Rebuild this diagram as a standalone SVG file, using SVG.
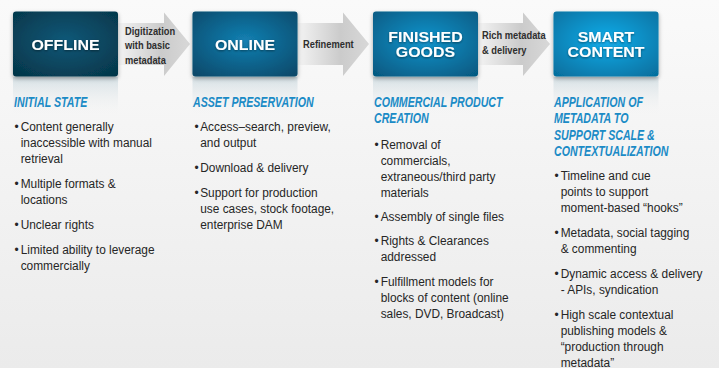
<svg xmlns="http://www.w3.org/2000/svg" width="719" height="368" viewBox="0 0 719 368">
<defs>
<linearGradient id="bg" x1="0" y1="0" x2="0" y2="1"><stop offset="0" stop-color="#fafafa"/><stop offset="1" stop-color="#ebebeb"/></linearGradient>
<linearGradient id="arr" x1="0" y1="0" x2="1" y2="0"><stop offset="0" stop-color="#f7f7f7"/><stop offset="0.62" stop-color="#cbcbcb"/><stop offset="1" stop-color="#d8d8d8"/></linearGradient>
<linearGradient id="refl" x1="0" y1="0" x2="0" y2="1"><stop offset="0" stop-color="#b9cdd6" stop-opacity="0.55"/><stop offset="1" stop-color="#f0f0f0" stop-opacity="0"/></linearGradient>
<radialGradient id="g1" cx="0.5" cy="0.45" r="0.7"><stop offset="0" stop-color="#0d5878"/><stop offset="1" stop-color="#053649"/></radialGradient>
<radialGradient id="g2" cx="0.5" cy="0.45" r="0.7"><stop offset="0" stop-color="#1380b2"/><stop offset="1" stop-color="#07496a"/></radialGradient>
<radialGradient id="g3" cx="0.5" cy="0.45" r="0.7"><stop offset="0" stop-color="#1394cc"/><stop offset="1" stop-color="#065a82"/></radialGradient>
<radialGradient id="g4" cx="0.5" cy="0.45" r="0.7"><stop offset="0" stop-color="#14adea"/><stop offset="1" stop-color="#06709f"/></radialGradient>
<filter id="sh" x="-20%" y="-20%" width="140%" height="150%"><feDropShadow dx="0" dy="2" stdDeviation="2" flood-color="#000" flood-opacity="0.35"/></filter>
<filter id="ts" x="-10%" y="-30%" width="120%" height="160%"><feDropShadow dx="0" dy="1" stdDeviation="0.8" flood-color="#000" flood-opacity="0.45"/></filter>
</defs>
<style>
.box{filter:url(#sh)}
.lbl{font-family:"Liberation Sans",Arial,sans-serif;font-weight:bold;font-size:14.5px;fill:#fff;text-anchor:middle;filter:url(#ts)}
.al{font-family:"Liberation Sans",Arial,sans-serif;font-weight:bold;font-size:11.5px;fill:#2e2e2e}
.hd{font-family:"Liberation Sans",Arial,sans-serif;font-weight:bold;font-style:italic;font-size:14px;fill:#1b8bc6}
.tx{font-family:"Liberation Sans",Arial,sans-serif;font-size:13.5px;fill:#262626}
</style>
<rect width="719" height="368" fill="url(#bg)"/>

<g id="connectors">
<path d="M114,23 H164 V12.5 L190,44 L164,76 V65 H114 Z" fill="url(#arr)"/>
<path d="M294,23 H343 V12.5 L369,44 L343,76 V65 H294 Z" fill="url(#arr)"/>
<path d="M474,23 H523 V12.5 L550,44 L523,76 V65 H474 Z" fill="url(#arr)"/>
<g transform="translate(125,0) scale(0.81,1)"><text class="al" x="0" y="35">Digitization</text><text class="al" x="0" y="49.3">with basic</text><text class="al" x="0" y="63.6">metadata</text></g>
<g transform="translate(303,0) scale(0.81,1)"><text class="al" x="0" y="48">Refinement</text></g>
<g transform="translate(482,0) scale(0.81,1)"><text class="al" x="0" y="39">Rich metadata</text><text class="al" x="0" y="54.5">&amp; delivery</text></g>
</g>

<g id="node-offline">
<rect x="13" y="77" width="105" height="38" fill="url(#refl)"/>
<rect class="box" x="13" y="11.5" width="105" height="65" rx="3" fill="url(#g1)"/>
<g transform="translate(65.5,0) scale(1.1,1)"><text class="lbl" x="0" y="50">OFFLINE</text></g>
</g>
<g id="node-online">
<rect x="192.5" y="77" width="105" height="38" fill="url(#refl)"/>
<rect class="box" x="192.5" y="11.5" width="105" height="65" rx="3" fill="url(#g2)"/>
<g transform="translate(245,0) scale(1.1,1)"><text class="lbl" x="0" y="50">ONLINE</text></g>
</g>
<g id="node-finished">
<rect x="373" y="77" width="105" height="38" fill="url(#refl)"/>
<rect class="box" x="373" y="11.5" width="105" height="65" rx="3" fill="url(#g3)"/>
<g transform="translate(425.5,0) scale(1.1,1)"><text class="lbl" x="0" y="42.5">FINISHED</text><text class="lbl" x="0" y="57.5">GOODS</text></g>
</g>
<g id="node-smart">
<rect x="553.5" y="77" width="105" height="38" fill="url(#refl)"/>
<rect class="box" x="553.5" y="11.5" width="105" height="65" rx="3" fill="url(#g4)"/>
<g transform="translate(606,0) scale(1.1,1)"><text class="lbl" x="0" y="42.5">SMART</text><text class="lbl" x="0" y="57.5">CONTENT</text></g>
</g>

<g id="col-initial">
<g transform="translate(14,0) scale(0.76,1)"><text class="hd" x="0" y="107">INITIAL STATE</text></g>
<g transform="translate(14.5,0) scale(0.88,1)">
<text class="tx" x="0" y="131">•</text><text class="tx" x="7" y="131">Content generally</text>
<text class="tx" x="7" y="147">inaccessible with manual</text>
<text class="tx" x="7" y="163">retrieval</text>
<text class="tx" x="0" y="188">•</text><text class="tx" x="7" y="188">Multiple formats &amp;</text>
<text class="tx" x="7" y="204">locations</text>
<text class="tx" x="0" y="229">•</text><text class="tx" x="7" y="229">Unclear rights</text>
<text class="tx" x="0" y="254">•</text><text class="tx" x="7" y="254">Limited ability to leverage</text>
<text class="tx" x="7" y="270">commercially</text>
</g>
</g>

<g id="col-asset">
<g transform="translate(193,0) scale(0.76,1)"><text class="hd" x="0" y="107">ASSET PRESERVATION</text></g>
<g transform="translate(194.5,0) scale(0.88,1)">
<text class="tx" x="0" y="131">•</text><text class="tx" x="6.5" y="131">Access–search, preview,</text>
<text class="tx" x="6.5" y="147">and output</text>
<text class="tx" x="0" y="172">•</text><text class="tx" x="6.5" y="172">Download &amp; delivery</text>
<text class="tx" x="0" y="197">•</text><text class="tx" x="6.5" y="197">Support for production</text>
<text class="tx" x="6.5" y="213">use cases, stock footage,</text>
<text class="tx" x="6.5" y="229">enterprise DAM</text>
</g>
</g>

<g id="col-commercial">
<g transform="translate(374,0) scale(0.76,1)"><text class="hd" x="0" y="107">COMMERCIAL PRODUCT</text><text class="hd" x="0" y="123">CREATION</text></g>
<g transform="translate(374.5,0) scale(0.88,1)">
<text class="tx" x="0" y="149">•</text><text class="tx" x="7" y="149">Removal of</text>
<text class="tx" x="7" y="165">commercials,</text>
<text class="tx" x="7" y="181">extraneous/third party</text>
<text class="tx" x="7" y="197">materials</text>
<text class="tx" x="0" y="221">•</text><text class="tx" x="7" y="221">Assembly of single files</text>
<text class="tx" x="0" y="245">•</text><text class="tx" x="7" y="245">Rights &amp; Clearances</text>
<text class="tx" x="7" y="261">addressed</text>
<text class="tx" x="0" y="286">•</text><text class="tx" x="7" y="286">Fulfillment models for</text>
<text class="tx" x="7" y="302">blocks of content (online</text>
<text class="tx" x="7" y="318">sales, DVD, Broadcast)</text>
</g>
</g>

<g id="col-smart">
<g transform="translate(554,0) scale(0.76,1)"><text class="hd" x="0" y="107">APPLICATION OF</text><text class="hd" x="0" y="123.5">METADATA TO</text><text class="hd" x="0" y="140">SUPPORT SCALE &amp;</text><text class="hd" x="0" y="156.5">CONTEXTUALIZATION</text></g>
<g transform="translate(554.5,0) scale(0.88,1)">
<text class="tx" x="0" y="180">•</text><text class="tx" x="7" y="180">Timeline and cue</text>
<text class="tx" x="7" y="196">points to support</text>
<text class="tx" x="7" y="212">moment-based “hooks”</text>
<text class="tx" x="0" y="237">•</text><text class="tx" x="7" y="237">Metadata, social tagging</text>
<text class="tx" x="7" y="253">&amp; commenting</text>
<text class="tx" x="0" y="278">•</text><text class="tx" x="7" y="278">Dynamic access &amp; delivery</text>
<text class="tx" x="7" y="294">- APIs, syndication</text>
<text class="tx" x="0" y="319">•</text><text class="tx" x="7" y="319">High scale contextual</text>
<text class="tx" x="7" y="335">publishing models &amp;</text>
<text class="tx" x="7" y="351">“production through</text>
<text class="tx" x="7" y="367">metadata”</text>
</g>
</g>
</svg>
